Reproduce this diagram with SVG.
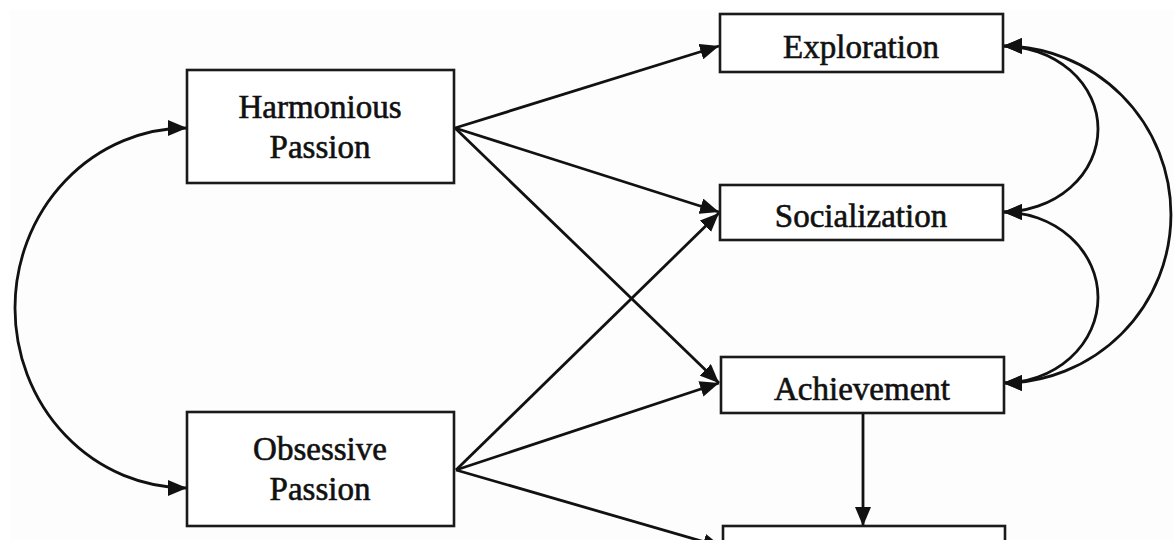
<svg xmlns="http://www.w3.org/2000/svg" width="1174" height="540" viewBox="0 0 1174 540">
  <style>
    .box { fill: #ffffff; stroke: #1a1a1a; stroke-width: 2.6; }
    .lbl { font-family: "Liberation Serif", "Times New Roman", serif; font-size: 33px; fill: #111111; stroke: #111111; stroke-width: 0.6; text-anchor: middle; }
    .edge { fill: none; stroke: #111111; stroke-width: 2.8; }
  </style>
  <defs>
    <marker id="ah" markerUnits="userSpaceOnUse" markerWidth="20" markerHeight="16" refX="19" refY="8" orient="auto-start-reverse" viewBox="0 0 20 16">
      <path d="M0,0 L19,8 L0,16 z" fill="#111111"/>
    </marker>
  </defs>
  <rect x="0" y="0" width="1174" height="540" fill="#ffffff"/>
  <rect x="10" y="10" width="1164" height="530" fill="#fdfdfd"/>

  <g id="connectors">
    <path class="edge" d="M187,128 A172,180 0 0 0 187,488" marker-start="url(#ah)" marker-end="url(#ah)"/>
    <line class="edge" x1="455" y1="128" x2="719" y2="46" marker-end="url(#ah)"/>
    <line class="edge" x1="455" y1="128" x2="719" y2="212" marker-end="url(#ah)"/>
    <line class="edge" x1="455" y1="128" x2="719" y2="383" marker-end="url(#ah)"/>
    <line class="edge" x1="456" y1="470" x2="719" y2="213" marker-end="url(#ah)"/>
    <line class="edge" x1="456" y1="470" x2="719" y2="383" marker-end="url(#ah)"/>
    <line class="edge" x1="456" y1="470" x2="722" y2="547" marker-end="url(#ah)"/>
    <line class="edge" x1="863" y1="413" x2="863" y2="526" marker-end="url(#ah)"/>
    <path class="edge" d="M1003,46 A95,83 0 0 1 1003,212" marker-start="url(#ah)" marker-end="url(#ah)"/>
    <path class="edge" d="M1003,212 A95,85.5 0 0 1 1003,383" marker-start="url(#ah)" marker-end="url(#ah)"/>
    <path class="edge" d="M1003,46 A168,168.5 0 0 1 1003,383" marker-start="url(#ah)" marker-end="url(#ah)"/>
  </g>

  <g id="harmonious">
    <rect class="box" x="187" y="70" width="267" height="113"/>
    <text class="lbl" x="320" y="118">Harmonious</text>
    <text class="lbl" x="320" y="158">Passion</text>
  </g>
  <g id="obsessive">
    <rect class="box" x="187" y="412" width="267" height="114"/>
    <text class="lbl" x="320" y="460">Obsessive</text>
    <text class="lbl" x="320" y="500">Passion</text>
  </g>
  <g id="exploration">
    <rect class="box" x="720" y="14" width="283" height="58"/>
    <text class="lbl" x="861" y="58">Exploration</text>
  </g>
  <g id="socialization">
    <rect class="box" x="720" y="185" width="283" height="55"/>
    <text class="lbl" x="861" y="227">Socialization</text>
  </g>
  <g id="achievement">
    <rect class="box" x="721" y="357" width="283" height="56"/>
    <text class="lbl" x="862" y="400">Achievement</text>
  </g>
  <g id="bottom-box">
    <rect class="box" x="723" y="526" width="282" height="60"/>
  </g>
</svg>
